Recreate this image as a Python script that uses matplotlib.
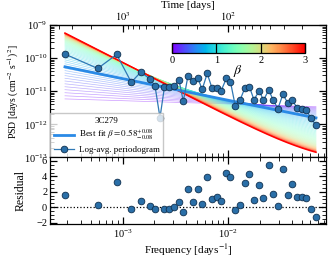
import numpy as np
import matplotlib
matplotlib.use('Agg')
import matplotlib.pyplot as plt
from matplotlib import colors, cm
from matplotlib.lines import Line2D
from matplotlib.ticker import LogLocator, MultipleLocator

plt.rcParams['font.family'] = ['Liberation Serif', 'DejaVu Serif']
plt.rcParams['mathtext.fontset'] = 'stix'
plt.rcParams['font.size'] = 7.5

# ---------------- data ----------------
freq = np.array([2.84e-4, 5.80e-4, 8.77e-4, 1.206e-3, 1.481e-3, 1.814e-3, 2.022e-3,
                 2.255e-3, 2.488e-3, 2.762e-3, 3.080e-3, 3.412e-3, 3.750e-3, 4.153e-3,
                 4.602e-3, 5.132e-3, 5.659e-3, 6.312e-3, 7.010e-3, 7.768e-3, 8.530e-3,
                 9.574e-3, 1.049e-2, 1.165e-2, 1.291e-2, 1.430e-2, 1.581e-2, 1.751e-2,
                 1.962e-2, 2.154e-2, 2.413e-2, 2.668e-2, 2.950e-2, 3.289e-2, 3.651e-2,
                 4.019e-2, 4.463e-2, 4.966e-2, 5.477e-2, 6.042e-2, 6.768e-2])
psd = np.array([1.32e-10, 4.88e-11, 1.29e-10, 1.87e-11, 3.77e-11, 2.36e-11, 1.45e-11,
                1.60e-12, 1.37e-11, 1.35e-11, 1.45e-11, 2.16e-11, 4.98e-12, 2.95e-11,
                2.01e-11, 2.56e-11, 1.13e-11, 3.44e-11, 1.25e-11, 1.25e-11, 1.01e-11,
                2.43e-11, 1.91e-11, 3.59e-12, 5.34e-12, 1.23e-11, 1.39e-11, 5.52e-12,
                1.04e-11, 5.34e-12, 1.09e-11, 5.34e-12, 2.99e-12, 8.00e-12, 4.49e-12,
                5.52e-12, 3.21e-12, 2.99e-12, 2.73e-12, 1.55e-12, 9.33e-13])
resid = np.array([1.62, 0.31, 3.28, -0.26, 0.74, 0.09, -0.22, np.nan, -0.22, -0.22,
                  0.0, 0.62, -0.65, 2.36, 0.65, 2.36, 0.40, 3.90, 1.08, 1.30, 0.80,
                  4.45, 3.90, -0.40, 0.26, 3.20, 4.37, 0.90, 2.90, 1.25, 5.50, 1.72,
                  0.21, 5.00, 1.60, 3.06, 1.30, 1.30, 1.14, -0.30, -1.30])

source_name = '3C279'
beta_best = 0.58
beta_err_hi = 0.08
beta_err_lo = 0.08
best_psd_at_fmin = 10 ** -10.264   # best-fit model level at lowest frequency
white_level = 6.6e-14               # flat noise floor of the models
beta_min, beta_max, beta_step = 0.0, 3.0, 0.05
slope_offset, slope_sat = 0.1, 1.6  # effective periodogram slope vs beta
time_ticks = [1000, 100]

# ---------------- model family ----------------
fgrid = np.logspace(np.log10(freq[0]), np.log10(freq[-1]), 300)


def eff_slope(b):
    return slope_offset + slope_sat * np.tanh(b / slope_sat)


def unit_model(b):
    s = eff_slope(b)
    shape = fgrid ** (-s)
    return shape / np.trapezoid(shape, fgrid)


variance = best_psd_at_fmin / unit_model(beta_best)[0]


def model(b):
    return variance * unit_model(b) + white_level


cmap = plt.get_cmap('rainbow')
cnorm = colors.Normalize(vmin=beta_min, vmax=beta_max)
betas = np.arange(beta_min, beta_max + 1e-9, beta_step)

# ---------------- figure ----------------
fig = plt.figure(figsize=(3.32, 2.57), dpi=100)
ax = fig.add_axes([0.1506, 0.3872, 0.8313, 0.5155])
ax2 = fig.add_axes([0.1506, 0.1265, 0.8313, 0.2607], sharex=ax)

for b in betas[:-1]:
    ax.plot(fgrid, model(b), color=cmap(cnorm(b)), lw=0.5, alpha=0.4, zorder=1)
ax.plot(fgrid, model(betas[-1]), color=cmap(cnorm(betas[-1])), lw=1.1, zorder=2)

best_line, = ax.plot(fgrid, model(beta_best), color='#2a8ae6', lw=2.0, zorder=3)
data_line, = ax.plot(freq, psd, '-o', color='#2f78b5', lw=0.9, ms=4.8,
                     mfc='#2a6fa8', mec='#10304f', mew=0.6, zorder=4)

ax.set_xscale('log')
ax.set_yscale('log')
ax.set_xlim(2.049e-4, 0.08418)
ax.set_ylim(1e-13, 1e-9)
ax.set_ylabel(r'PSD [days (cm$^{-2}$ s$^{-1}$)$^{2}$]', fontsize=7, labelpad=2)
ax.yaxis.set_major_locator(LogLocator(base=10, numticks=10))
ax.yaxis.set_minor_locator(LogLocator(base=10, subs=np.arange(2, 10), numticks=50))
ax.tick_params(which='both', direction='in', right=True, top=False,
               labelbottom=False, pad=2)
ax.tick_params(which='major', length=5, width=0.9)
ax.tick_params(which='minor', length=2.8, width=0.6)

secax = ax.secondary_xaxis('top', functions=(lambda x: 1.0 / x, lambda x: 1.0 / x))
secax.set_xticks(time_ticks)
secax.set_xticklabels([r'$10^{3}$', r'$10^{2}$'])
secax.set_xlabel('Time [days]', fontsize=8, labelpad=1.5)
secax.tick_params(which='both', direction='in', pad=1.5)
secax.tick_params(which='major', length=5, width=0.9)
secax.tick_params(which='minor', length=2.8, width=0.6)

# colorbar inset
cax = ax.inset_axes([0.442, 0.788, 0.482, 0.076])
cb = fig.colorbar(cm.ScalarMappable(norm=cnorm, cmap=cmap), cax=cax,
                  orientation='horizontal', ticks=[0, 1, 2, 3])
cb.ax.tick_params(direction='in', length=7.2, width=0.9, labelsize=7.5, pad=2)
cb.ax.minorticks_off()
cb.outline.set_linewidth(0.9)
ax.text(0.68, 0.655, r'$\beta$', transform=ax.transAxes, fontsize=10,
        ha='center', va='center')

leg_data = Line2D([], [], color='#2f78b5', lw=0.9, marker='o', ms=4.8,
                  mfc='#2a6fa8', mec='#10304f', mew=0.6)
best_label = (r'Best fit $\beta=%.2f^{+%.2f}_{-%.2f}$'
              % (beta_best, beta_err_hi, beta_err_lo))
leg = ax.legend([best_line, leg_data], [best_label, 'Log-avg. periodogram'],
                loc='lower left', title=source_name, fontsize=6.5,
                title_fontsize=6.5, borderaxespad=0.0, handlelength=2.3,
                handletextpad=0.5, framealpha=0.8, edgecolor='#bbbbbb',
                fancybox=False, labelspacing=0.35, borderpad=0.4)
leg.set_zorder(10)

# residual panel
ax2.plot(freq, resid, 'o', ms=4.8, mfc='#2a6fa8', mec='#10304f', mew=0.6, zorder=3)
ax2.axhline(0, color='k', ls=':', lw=0.9)
ax2.set_ylim(-2.25, 6.45)
ax2.set_yticks([-2, 0, 2, 4, 6])
ax2.yaxis.set_minor_locator(MultipleLocator(0.5))
ax2.set_ylabel('Residual', fontsize=8.5, labelpad=7)
ax2.set_xlabel(r'Frequency [days$^{-1}$]', fontsize=8, labelpad=2)
ax2.tick_params(which='both', direction='in', right=True, top=True, pad=2)
ax2.tick_params(which='major', length=5, width=0.9)
ax2.tick_params(which='minor', length=2.8, width=0.6)

for a in (ax, ax2):
    for sp in a.spines.values():
        sp.set_linewidth(0.9)

fig.savefig('out.png', dpi=100)
